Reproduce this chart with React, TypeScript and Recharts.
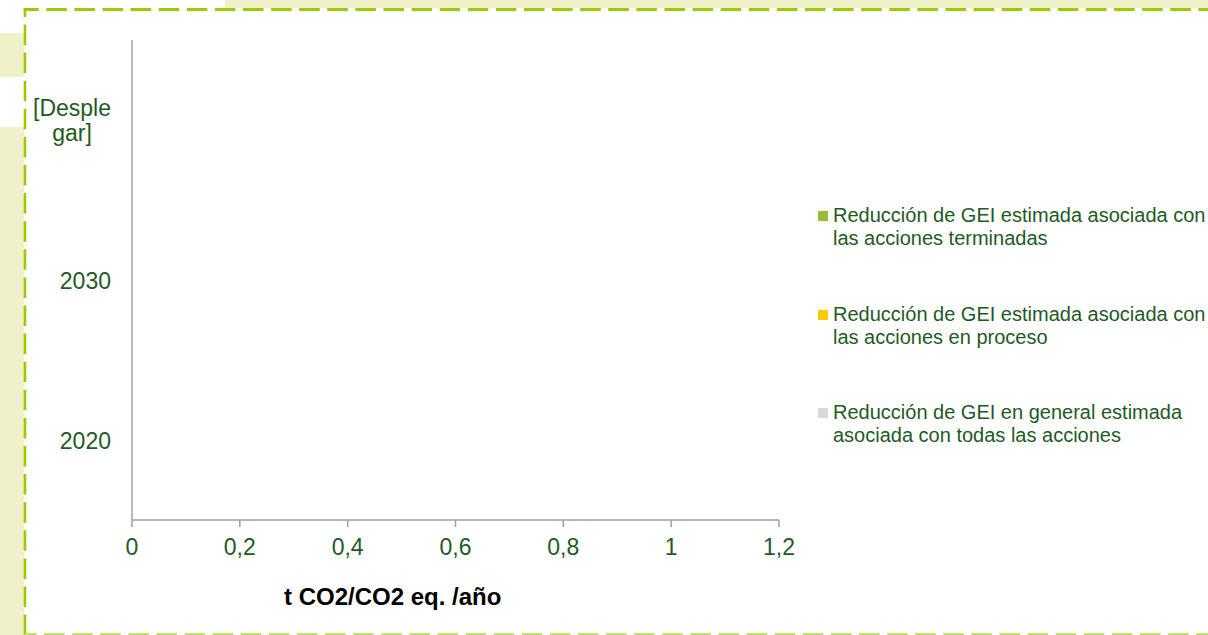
import React from 'react';
import { BarChart, Bar, XAxis, YAxis, Legend } from 'recharts';

// Categories top-to-bottom as they appear on the category axis
const categories = ['[Desplegar]', '2030', '2020'];

// Estimated GHG reductions (t CO2/CO2 eq. per year) — nothing filled in yet
const terminadas = [0, 0, 0];
const enProceso = [0, 0, 0];
const general = [0, 0, 0];

const xTicks = [0, 0.2, 0.4, 0.6, 0.8, 1, 1.2];

const seriesKeys = ['terminadas', 'enProceso', 'general'];
const seriesNames = [
  'Reducción de GEI estimada asociada con las acciones terminadas',
  'Reducción de GEI estimada asociada con las acciones en proceso',
  'Reducción de GEI en general estimada asociada con todas las acciones',
];
const seriesColors = ['#9BBB3B', '#FFCC00', '#D9D9D9'];

const data = categories.map((cat, i) => ({
  cat,
  terminadas: terminadas[i],
  enProceso: enProceso[i],
  general: general[i],
}));

const FONT = "'Liberation Sans', Arial, sans-serif";
const TEXT_GREEN = '#1E5B24';
const AXIS_GRAY = '#A0A0A0';
const TICK_SIZE = 23;
const TICK_FONT = `${TICK_SIZE}px 'Liberation Sans', Arial, sans-serif`;

let measureCtx: CanvasRenderingContext2D | null = null;
const measure = (s: string, font: string) => {
  if (!measureCtx) measureCtx = document.createElement('canvas').getContext('2d');
  if (!measureCtx) return s.length * 12;
  measureCtx.font = font;
  return measureCtx.measureText(s).width;
};

// Break a category label character by character when it exceeds the space left of the axis
const wrapChars = (label: string, maxW: number, font: string) => {
  const lines: string[] = [];
  let cur = '';
  for (const ch of label) {
    if (cur && measure(cur + ch, font) > maxW) {
      lines.push(cur);
      cur = ch;
    } else {
      cur += ch;
    }
  }
  if (cur) lines.push(cur);
  return lines;
};

const CategoryTick = (props: any) => {
  const { x, y, payload } = props;
  const lines = wrapChars(String(payload.value), 85, TICK_FONT);
  const blockW = Math.max(...lines.map((l) => measure(l, TICK_FONT)));
  const cx = x - blockW / 2;
  const lh = 25;
  const firstDy = -((lines.length - 1) * lh) / 2 + 8.5;
  return (
    <text x={cx} y={y} textAnchor="middle" fill={TEXT_GREEN} fontSize={TICK_SIZE} fontFamily={FONT}>
      {lines.map((l, i) => (
        <tspan key={i} x={cx} dy={i === 0 ? firstDy : lh}>
          {l}
        </tspan>
      ))}
    </text>
  );
};

const AxisTitle = (props: any) => {
  const vb = props.viewBox || { x: 0, y: 0, width: 0, height: 0 };
  return (
    <text
      x={vb.x + vb.width * 0.403}
      y={vb.y + vb.height}
      textAnchor="middle"
      fontFamily={FONT}
      fontWeight="bold"
      fontSize={24}
      fill="#000"
    >
      t CO2/CO2 eq. /año
    </text>
  );
};

// Legend listed in series order (terminadas, en proceso, general)
const LegendContent = (props: any) => {
  const payload: any[] = props.payload || [];
  const ordered = seriesNames
    .map((n) => payload.find((p) => p.value === n))
    .filter(Boolean) as any[];
  return (
    <div style={{ fontFamily: FONT, fontSize: 20, lineHeight: '23px', color: TEXT_GREEN }}>
      {ordered.map((entry: any, i: number) => (
        <div key={i} style={{ position: 'relative', height: 98.5 }}>
          <div
            style={{
              position: 'absolute',
              left: 2,
              top: 7,
              width: 10,
              height: 10,
              background: entry.color,
            }}
          />
          <div style={{ position: 'absolute', left: 17, top: 0, width: 392 }}>{entry.value}</div>
        </div>
      ))}
    </div>
  );
};

const dashGreen = '#99CC00';

export default function App() {
  return (
    <div
      style={{
        position: 'absolute',
        left: 0,
        top: 0,
        width: 1208,
        height: 635,
        overflow: 'hidden',
        background: '#fff',
      }}
    >
      <svg width={1208} height={635} style={{ position: 'absolute', left: 0, top: 0 }}>
        <rect x={0} y={33} width={24} height={44} fill="#F0F1C8" />
        <rect x={0} y={127} width={24} height={508} fill="#F0F1C8" />
        <rect x={225} y={0} width={983} height={8} fill="#F0F1C8" />
        <line
          x1={23.5}
          y1={9.5}
          x2={1208}
          y2={9.5}
          stroke={dashGreen}
          strokeWidth={3}
          strokeDasharray="20.5 7.6"
          strokeDashoffset={5.3}
        />
        <line
          x1={25}
          y1={10}
          x2={25}
          y2={635}
          stroke={dashGreen}
          strokeWidth={2.6}
          strokeDasharray="20.5 7.6"
          strokeDashoffset={13.6}
        />
        <line
          x1={25}
          y1={634}
          x2={1208}
          y2={634}
          stroke="#C2E26C"
          strokeWidth={2}
          strokeDasharray="20.5 7.6"
          strokeDashoffset={9}
        />
      </svg>
      <div style={{ position: 'absolute', left: 0, top: 0 }}>
        <BarChart
          width={1208}
          height={635}
          data={data}
          layout="vertical"
          margin={{ top: 40, right: 429, bottom: 30, left: 0 }}
        >
          <XAxis
            type="number"
            domain={[0, 1.2]}
            ticks={xTicks}
            interval={0}
            height={85}
            tickSize={7}
            tickMargin={12}
            tickFormatter={(v: number) => String(v).replace('.', ',')}
            tick={{ fill: TEXT_GREEN, fontSize: TICK_SIZE, fontFamily: FONT }}
            axisLine={{ stroke: AXIS_GRAY, strokeWidth: 1.5 }}
            tickLine={{ stroke: AXIS_GRAY, strokeWidth: 1.5 }}
            label={<AxisTitle />}
          />
          <YAxis
            type="category"
            dataKey="cat"
            width={132}
            tickLine={false}
            tickSize={6}
            tickMargin={15}
            interval={0}
            axisLine={{ stroke: AXIS_GRAY, strokeWidth: 1.5 }}
            tick={<CategoryTick />}
          />
          {seriesKeys.map((k, i) => (
            <Bar key={k} dataKey={k} name={seriesNames[i]} fill={seriesColors[i]} isAnimationActive={false} />
          ))}
          <Legend
            layout="vertical"
            align="center"
            verticalAlign="middle"
            wrapperStyle={{ left: 816, top: 204, width: 392 }}
            content={<LegendContent />}
          />
        </BarChart>
      </div>
    </div>
  );
}
